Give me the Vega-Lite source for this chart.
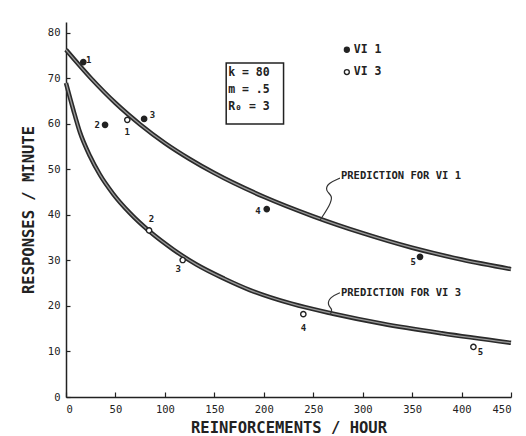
{
  "$schema": "https://vega.github.io/schema/vega-lite/v6.json",
  "width": 445,
  "height": 375,
  "autosize": {"type": "none"},
  "padding": {"left": 66, "top": 22, "right": 15, "bottom": 39},
  "background": "white",
  "config": {
    "font": "DejaVu Sans Mono",
    "view": {"stroke": null},
    "axis": {"grid": false, "domainColor": "#222", "domainWidth": 1.5, "tickColor": "#222", "tickWidth": 1.2, "labelColor": "#222", "labelFont": "DejaVu Sans Mono", "labelFontSize": 10.5, "titleFont": "DejaVu Sans Mono", "titleFontSize": 15.5, "titleFontWeight": "bold", "titleColor": "#222"}
  },
  "datasets": {
    "curves": [
      {"series": "VI 1", "rate": 0, "resp": 76.3},
      {"series": "VI 1", "rate": 25, "resp": 70.1},
      {"series": "VI 1", "rate": 50, "resp": 64.6},
      {"series": "VI 1", "rate": 75, "resp": 59.9},
      {"series": "VI 1", "rate": 100, "resp": 55.8},
      {"series": "VI 1", "rate": 125, "resp": 52.3},
      {"series": "VI 1", "rate": 150, "resp": 49.2},
      {"series": "VI 1", "rate": 200, "resp": 44.0},
      {"series": "VI 1", "rate": 250, "resp": 39.7},
      {"series": "VI 1", "rate": 300, "resp": 36.0},
      {"series": "VI 1", "rate": 350, "resp": 32.8},
      {"series": "VI 1", "rate": 400, "resp": 30.2},
      {"series": "VI 1", "rate": 450, "resp": 28.1},
      {"series": "VI 3", "rate": 0, "resp": 69},
      {"series": "VI 3", "rate": 7.4, "resp": 63.1},
      {"series": "VI 3", "rate": 14.2, "resp": 58.1},
      {"series": "VI 3", "rate": 24.3, "resp": 52.9},
      {"series": "VI 3", "rate": 34.4, "resp": 48.8},
      {"series": "VI 3", "rate": 47.8, "resp": 44.6},
      {"series": "VI 3", "rate": 64.7, "resp": 40.4},
      {"series": "VI 3", "rate": 85, "resp": 36.3},
      {"series": "VI 3", "rate": 108.5, "resp": 32.4},
      {"series": "VI 3", "rate": 132, "resp": 29.1},
      {"series": "VI 3", "rate": 160, "resp": 26},
      {"series": "VI 3", "rate": 186, "resp": 23.5},
      {"series": "VI 3", "rate": 228, "resp": 20.5},
      {"series": "VI 3", "rate": 270, "resp": 18.3},
      {"series": "VI 3", "rate": 320, "resp": 16.1},
      {"series": "VI 3", "rate": 380, "resp": 14.0},
      {"series": "VI 3", "rate": 450, "resp": 11.9}
    ],
    "points": [
      {"series": "VI 1", "rate": 17.5, "resp": 73.6},
      {"series": "VI 1", "rate": 39.5, "resp": 59.8},
      {"series": "VI 1", "rate": 79, "resp": 61.1},
      {"series": "VI 1", "rate": 203, "resp": 41.3},
      {"series": "VI 1", "rate": 358, "resp": 30.8},
      {"series": "VI 3", "rate": 62, "resp": 60.9},
      {"series": "VI 3", "rate": 84, "resp": 36.6},
      {"series": "VI 3", "rate": 118, "resp": 30.1},
      {"series": "VI 3", "rate": 240, "resp": 18.2},
      {"series": "VI 3", "rate": 412, "resp": 11}
    ],
    "pointLabels": [
      {"label": "1", "rate": 23, "resp": 74},
      {"label": "2", "rate": 31.5, "resp": 59.8},
      {"label": "3", "rate": 87.5, "resp": 62},
      {"label": "4", "rate": 194, "resp": 40.9},
      {"label": "5", "rate": 351, "resp": 29.7},
      {"label": "1", "rate": 62, "resp": 58.2},
      {"label": "2", "rate": 86.5, "resp": 39.2},
      {"label": "3", "rate": 113.5, "resp": 28.1},
      {"label": "4", "rate": 240, "resp": 15.2},
      {"label": "5", "rate": 419, "resp": 9.8}
    ],
    "box": [{"x1": 162, "x2": 220, "y1": 60, "y2": 73.4}],
    "boxText": [
      {"t": "k  = 80", "rate": 164, "resp": 71.3},
      {"t": "m  = .5", "rate": 164, "resp": 67.5},
      {"t": "R₀ = 3", "rate": 164, "resp": 63.7}
    ],
    "legend": [
      {"series": "VI 1", "rate": 284, "resp": 76.3},
      {"series": "VI 3", "rate": 284, "resp": 71.4}
    ],
    "annot": [
      {"t": "PREDICTION FOR VI 1", "rate": 278, "resp": 48.6},
      {"t": "PREDICTION FOR VI 3", "rate": 278, "resp": 22.8}
    ],
    "squiggles": [
      {"id": "a", "o": 1, "rate": 277, "resp": 48.1},
      {"id": "a", "o": 2, "rate": 265, "resp": 47.0},
      {"id": "a", "o": 3, "rate": 262, "resp": 45.3},
      {"id": "a", "o": 4, "rate": 270, "resp": 44.2},
      {"id": "a", "o": 5, "rate": 267, "resp": 42.2},
      {"id": "a", "o": 6, "rate": 257, "resp": 38.9},
      {"id": "b", "o": 1, "rate": 277, "resp": 22.9},
      {"id": "b", "o": 2, "rate": 267, "resp": 22.0},
      {"id": "b", "o": 3, "rate": 264, "resp": 20.2},
      {"id": "b", "o": 4, "rate": 270, "resp": 19.3},
      {"id": "b", "o": 5, "rate": 267, "resp": 18.0}
    ]
  },
  "layer": [
    {
      "data": {"name": "curves"},
      "mark": {"type": "line", "interpolate": "monotone", "color": "#2a2a2a", "strokeWidth": 4.5},
      "encoding": {
        "x": {"field": "rate", "type": "quantitative", "scale": {"domain": [0, 450], "nice": false},
              "axis": {"values": [0, 50, 100, 150, 200, 250, 300, 350, 400, 450], "tickSize": -5, "labelPadding": 12, "title": "REINFORCEMENTS / HOUR", "titlePadding": 6}},
        "y": {"field": "resp", "type": "quantitative", "scale": {"domain": [0, 82.4], "nice": false},
              "axis": {"values": [0, 10, 20, 30, 40, 50, 60, 70, 80], "tickSize": -4, "labelPadding": 10, "title": "RESPONSES / MINUTE", "titleX": -30}},
        "detail": {"field": "series"}
      }
    },
    {
      "data": {"name": "curves"},
      "mark": {"type": "line", "interpolate": "monotone", "color": "#9a9a9a", "strokeWidth": 1.3},
      "encoding": {
        "x": {"field": "rate", "type": "quantitative"},
        "y": {"field": "resp", "type": "quantitative"},
        "detail": {"field": "series"}
      }
    },
    {
      "data": {"name": "squiggles"},
      "mark": {"type": "line", "interpolate": "basis", "color": "#333", "strokeWidth": 1.2},
      "encoding": {
        "x": {"field": "rate", "type": "quantitative"},
        "y": {"field": "resp", "type": "quantitative"},
        "detail": {"field": "id"},
        "order": {"field": "o"}
      }
    },
    {
      "data": {"name": "points"},
      "mark": {"type": "point", "size": 28, "strokeWidth": 1.4, "stroke": "#222", "opacity": 1},
      "encoding": {
        "x": {"field": "rate", "type": "quantitative"},
        "y": {"field": "resp", "type": "quantitative"},
        "fill": {"field": "series", "type": "nominal", "scale": {"domain": ["VI 1", "VI 3"], "range": ["#222", "white"]}, "legend": null},
        "fillOpacity": {"value": 1}
      }
    },
    {
      "data": {"name": "pointLabels"},
      "mark": {"type": "text", "fontSize": 9, "fontWeight": "bold", "color": "#222"},
      "encoding": {
        "x": {"field": "rate", "type": "quantitative"},
        "y": {"field": "resp", "type": "quantitative"},
        "text": {"field": "label"}
      }
    },
    {
      "data": {"name": "box"},
      "mark": {"type": "rect", "fill": null, "stroke": "#222", "strokeWidth": 1.5},
      "encoding": {
        "x": {"field": "x1", "type": "quantitative"},
        "x2": {"field": "x2"},
        "y": {"field": "y1", "type": "quantitative"},
        "y2": {"field": "y2"}
      }
    },
    {
      "data": {"name": "boxText"},
      "mark": {"type": "text", "align": "left", "fontSize": 11.5, "fontWeight": "bold", "color": "#222"},
      "encoding": {
        "x": {"field": "rate", "type": "quantitative"},
        "y": {"field": "resp", "type": "quantitative"},
        "text": {"field": "t"}
      }
    },
    {
      "data": {"name": "legend"},
      "mark": {"type": "point", "size": 24, "strokeWidth": 1.4, "stroke": "#222", "opacity": 1},
      "encoding": {
        "x": {"field": "rate", "type": "quantitative"},
        "y": {"field": "resp", "type": "quantitative"},
        "fill": {"field": "series", "type": "nominal", "legend": null},
        "fillOpacity": {"value": 1}
      }
    },
    {
      "data": {"name": "legend"},
      "mark": {"type": "text", "align": "left", "dx": 7, "fontSize": 11.5, "fontWeight": "bold", "color": "#222"},
      "encoding": {
        "x": {"field": "rate", "type": "quantitative"},
        "y": {"field": "resp", "type": "quantitative"},
        "text": {"field": "series"}
      }
    },
    {
      "data": {"name": "annot"},
      "mark": {"type": "text", "align": "left", "fontSize": 10.5, "fontWeight": "bold", "color": "#222"},
      "encoding": {
        "x": {"field": "rate", "type": "quantitative"},
        "y": {"field": "resp", "type": "quantitative"},
        "text": {"field": "t"}
      }
    }
  ]
}
